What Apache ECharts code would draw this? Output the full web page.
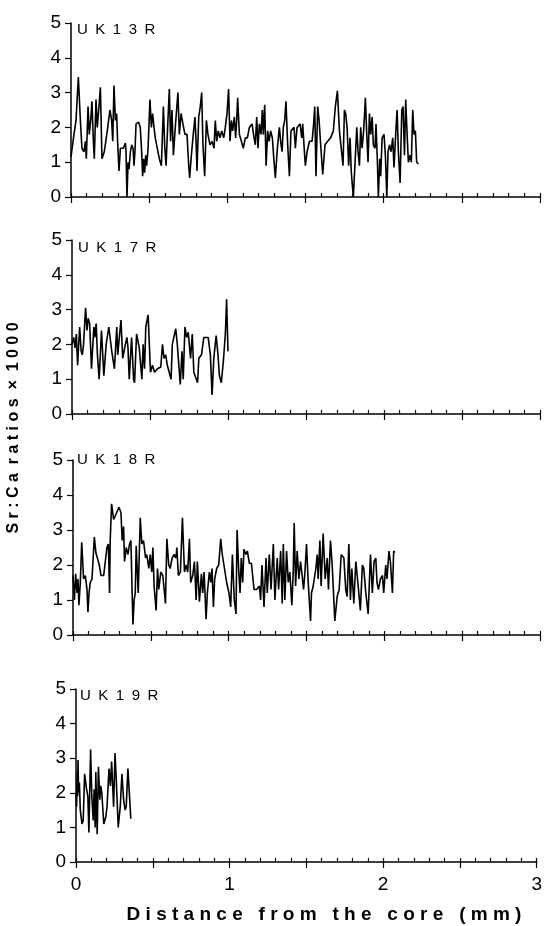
<!DOCTYPE html>
<html><head><meta charset="utf-8">
<script src="https://cdn.jsdelivr.net/npm/echarts@6/dist/echarts.min.js"></script>
<style>html,body{margin:0;padding:0;background:#fff}#c{width:545px;height:926px}</style>
</head><body><div id="c"></div>
<script>
const panelNames = ['UK13R', 'UK17R', 'UK18R', 'UK19R'];
const xTickLabels = ['0', '1', '2', '3'];
const yTickLabels = ['0', '1', '2', '3', '4', '5'];
const xTitle = 'Distance from the core (mm)';
const yTitle = 'Sr:Ca ratios \u00d7 1000';

// [distance (mm), Sr:Ca x 1000]
const uk13r = [[0,1.15],[0.019,1.8],[0.032,2.2],[0.047,3.45],[0.060,2.2],[0.070,1.4],[0.083,1.3],[0.092,1.6],[0.098,1.1],[0.109,2.6],[0.117,1.8],[0.126,2.2],[0.134,2.75],[0.143,1.6],[0.149,1.1],[0.160,2.8],[0.168,2.0],[0.179,2.6],[0.188,3.15],[0.198,1.1],[0.213,1.3],[0.232,1.9],[0.249,2.5],[0.260,2.2],[0.267,1.6],[0.275,3.2],[0.284,2.2],[0.292,2.4],[0.298,1.6],[0.307,0.75],[0.316,1.4],[0.335,1.4],[0.348,1.55],[0.352,1.3],[0.358,0],[0.365,1.0],[0.371,0.8],[0.380,1.3],[0.388,1.5],[0.397,1.4],[0.403,0.9],[0.409,1.3],[0.416,2.1],[0.433,2.15],[0.443,2.0],[0.452,1.3],[0.458,0.6],[0.465,1.1],[0.471,0.7],[0.478,1.2],[0.484,0.9],[0.493,1.4],[0.505,2.8],[0.514,2.0],[0.522,2.4],[0.531,2.0],[0.539,1.7],[0.552,1.4],[0.565,1.1],[0.578,0.9],[0.591,2.6],[0.599,1.5],[0.608,0.9],[0.620,2.2],[0.629,3.1],[0.637,1.6],[0.646,2.5],[0.655,1.2],[0.667,2.0],[0.684,3.0],[0.693,1.8],[0.704,2.4],[0.716,2.1],[0.729,1.8],[0.742,1.8],[0.753,0.9],[0.759,0.55],[0.770,1.2],[0.780,1.7],[0.793,2.3],[0.800,1.6],[0.806,0.75],[0.817,2.3],[0.827,2.6],[0.836,3.0],[0.844,1.5],[0.855,0.6],[0.866,2.2],[0.876,1.8],[0.889,1.5],[0.902,1.6],[0.915,1.4],[0.923,2.2],[0.932,1.6],[0.942,1.9],[0.953,1.7],[0.964,1.9],[0.977,1.7],[0.987,2.0],[0.998,2.4],[1.008,3.1],[1.017,1.6],[1.026,2.2],[1.034,1.9],[1.045,2.3],[1.053,1.7],[1.060,2.2],[1.066,2.85],[1.077,1.8],[1.090,1.6],[1.102,1.4],[1.115,1.7],[1.128,1.7],[1.141,2.0],[1.158,2.1],[1.171,1.7],[1.179,1.5],[1.188,2.3],[1.196,1.4],[1.205,2.1],[1.215,1.8],[1.224,2.5],[1.230,1.8],[1.239,2.65],[1.248,0.9],[1.258,1.9],[1.267,1.6],[1.277,1.9],[1.288,1.7],[1.299,1.0],[1.307,0.55],[1.320,1.4],[1.333,2.0],[1.341,1.6],[1.350,1.3],[1.358,2.0],[1.367,2.2],[1.375,2.75],[1.386,1.5],[1.397,0.6],[1.407,1.9],[1.418,1.9],[1.427,2.0],[1.435,1.4],[1.446,2.0],[1.456,2.0],[1.465,2.1],[1.476,1.7],[1.482,2.1],[1.493,1.3],[1.499,0.9],[1.510,1.3],[1.525,1.6],[1.542,1.6],[1.552,2.1],[1.559,2.6],[1.567,0.6],[1.578,2.6],[1.587,2.2],[1.597,1.5],[1.610,0.65],[1.625,1.5],[1.642,1.6],[1.661,1.7],[1.678,1.9],[1.691,2.6],[1.704,3.05],[1.717,1.9],[1.727,1.9],[1.740,0.9],[1.749,2.5],[1.757,2.4],[1.766,2.0],[1.776,0.9],[1.785,1.7],[1.793,0.7],[1.806,0],[1.817,1.0],[1.828,2.0],[1.836,1.3],[1.845,0.9],[1.853,2.0],[1.862,1.4],[1.872,1.9],[1.883,2.85],[1.891,1.9],[1.900,1.0],[1.909,2.4],[1.917,1.8],[1.926,2.3],[1.934,1.5],[1.945,1.4],[1.951,2.1],[1.960,1.0],[1.966,0],[1.975,1.1],[1.981,0.6],[1.990,1.7],[2.002,1.8],[2.011,1.2],[2.020,0],[2.028,1.3],[2.037,1.5],[2.047,1.3],[2.058,1.7],[2.066,0.85],[2.077,1.8],[2.086,2.5],[2.094,1.3],[2.105,0.4],[2.116,2.5],[2.124,2.6],[2.133,1.2],[2.141,2.8],[2.150,1.8],[2.158,1.0],[2.169,1.2],[2.177,1.0],[2.186,2.5],[2.194,1.8],[2.203,1.9],[2.211,1.0],[2.222,0.95]];

const uk17r = [[0,2.0],[0.011,2.2],[0.019,1.9],[0.028,2.3],[0.036,1.4],[0.049,2.5],[0.059,1.8],[0.066,1.7],[0.074,2.0],[0.087,3.05],[0.096,2.4],[0.104,2.75],[0.113,2.6],[0.125,1.3],[0.140,2.5],[0.146,2.2],[0.155,2.6],[0.163,1.7],[0.174,1.0],[0.189,2.4],[0.204,1.1],[0.219,2.0],[0.236,2.5],[0.244,2.55],[0.255,1.8],[0.272,1.3],[0.287,2.5],[0.293,1.7],[0.314,2.7],[0.325,1.6],[0.342,2.0],[0.352,2.2],[0.359,1.9],[0.367,1.0],[0.382,2.2],[0.395,1.0],[0.401,0.9],[0.414,2.3],[0.431,1.9],[0.448,1.0],[0.456,2.0],[0.465,1.3],[0.473,2.5],[0.488,2.85],[0.503,1.2],[0.516,1.4],[0.529,1.2],[0.548,1.3],[0.569,1.35],[0.580,2.0],[0.590,1.6],[0.601,1.7],[0.611,1.4],[0.635,1.0],[0.643,2.0],[0.665,2.45],[0.675,2.0],[0.694,0.85],[0.705,1.8],[0.713,1.0],[0.724,2.5],[0.735,2.2],[0.745,2.35],[0.760,1.6],[0.771,2.3],[0.781,1.2],[0.805,0.9],[0.813,1.6],[0.830,1.7],[0.845,2.2],[0.873,2.2],[0.887,1.7],[0.898,0.55],[0.909,1.6],[0.924,2.25],[0.936,1.7],[0.945,1.1],[0.957,0.9],[0.970,1.5],[0.983,2.3],[0.991,3.3],[1.000,1.8]];

const uk18r = [[0,1.7],[0.009,1.0],[0.017,1.75],[0.026,1.2],[0.032,1.6],[0.038,0.85],[0.047,1.5],[0.056,2.65],[0.068,1.6],[0.079,1.7],[0.090,1.3],[0.096,0.65],[0.103,1.2],[0.111,1.5],[0.122,1.6],[0.137,2.8],[0.147,2.35],[0.158,2.4],[0.169,2.0],[0.180,1.7],[0.197,1.7],[0.207,1.65],[0.218,2.5],[0.227,2.6],[0.235,1.2],[0.239,2.7],[0.248,3.75],[0.261,3.3],[0.271,3.4],[0.295,3.65],[0.308,3.5],[0.316,2.7],[0.325,3.1],[0.331,2.1],[0.342,2.5],[0.353,2.3],[0.363,2.6],[0.372,2.7],[0.380,1.2],[0.385,0.3],[0.393,1.0],[0.400,1.2],[0.406,2.55],[0.419,1.2],[0.432,3.35],[0.442,2.6],[0.453,2.7],[0.466,2.2],[0.474,2.3],[0.487,1.9],[0.496,2.3],[0.506,1.8],[0.513,2.5],[0.521,1.4],[0.534,0.7],[0.543,1.9],[0.551,1.3],[0.564,1.8],[0.577,1.7],[0.594,0.9],[0.603,2.75],[0.615,2.0],[0.624,1.9],[0.637,2.2],[0.650,2.3],[0.662,2.2],[0.667,2.5],[0.677,1.7],[0.690,1.8],[0.703,3.35],[0.716,1.8],[0.727,2.0],[0.737,1.8],[0.748,2.75],[0.756,1.5],[0.769,1.7],[0.780,2.1],[0.791,1.0],[0.799,2.1],[0.812,0.95],[0.825,1.75],[0.833,1.2],[0.842,1.8],[0.855,0.45],[0.863,1.2],[0.876,1.8],[0.885,1.5],[0.893,1.9],[0.902,0.8],[0.910,1.6],[0.923,1.9],[0.936,2.0],[0.949,2.75],[0.959,2.3],[0.970,2.3],[0.987,1.5],[1.002,1.2],[1.013,0.8],[1.024,2.3],[1.036,1.0],[1.047,0.6],[1.054,3.0],[1.064,1.9],[1.073,1.2],[1.081,2.2],[1.090,1.5],[1.098,2.45],[1.111,2.3],[1.120,2.4],[1.133,2.05],[1.146,2.05],[1.154,2.0],[1.163,1.3],[1.180,1.3],[1.197,1.4],[1.205,1.0],[1.214,2.0],[1.227,0.8],[1.240,2.2],[1.248,1.2],[1.261,2.3],[1.272,1.3],[1.287,2.6],[1.297,1.0],[1.312,2.2],[1.321,1.3],[1.334,2.4],[1.344,0.9],[1.351,2.6],[1.361,1.0],[1.372,2.4],[1.383,1.5],[1.393,1.8],[1.406,0.85],[1.415,1.85],[1.421,3.2],[1.430,1.4],[1.440,2.4],[1.451,1.6],[1.462,2.1],[1.472,1.7],[1.481,1.3],[1.490,1.8],[1.500,2.6],[1.511,1.5],[1.526,0.4],[1.532,1.2],[1.543,1.4],[1.560,1.9],[1.569,2.3],[1.575,1.6],[1.586,2.7],[1.594,1.4],[1.607,2.9],[1.620,1.6],[1.633,2.2],[1.641,1.3],[1.654,2.7],[1.665,2.0],[1.682,0.4],[1.697,1.1],[1.710,1.3],[1.723,2.3],[1.740,2.2],[1.752,1.3],[1.761,1.1],[1.772,2.6],[1.782,1.0],[1.791,1.9],[1.804,0.9],[1.817,2.1],[1.832,1.4],[1.846,0.7],[1.859,2.0],[1.868,1.9],[1.881,1.2],[1.896,0.6],[1.911,2.3],[1.923,1.2],[1.934,2.1],[1.945,2.2],[1.953,1.5],[1.962,1.3],[1.975,1.6],[1.988,1.7],[1.996,1.2],[2.009,2.0],[2.017,1.6],[2.030,2.4],[2.039,2.1],[2.052,1.2],[2.060,2.4],[2.067,2.35]];

const uk19r = [[0,2.0],[0.004,1.6],[0.008,2.6],[0.011,1.9],[0.013,2.95],[0.017,2.0],[0.022,2.3],[0.028,1.5],[0.039,1.1],[0.047,1.2],[0.056,2.55],[0.069,2.1],[0.077,1.9],[0.084,0.85],[0.095,3.25],[0.103,1.9],[0.112,1.2],[0.118,2.1],[0.125,1.0],[0.129,2.6],[0.138,0.8],[0.146,2.75],[0.155,1.8],[0.161,2.2],[0.168,2.0],[0.181,1.1],[0.194,1.3],[0.202,1.6],[0.215,2.7],[0.224,2.2],[0.232,2.9],[0.245,1.6],[0.254,3.15],[0.262,2.4],[0.275,1.0],[0.288,1.6],[0.299,2.55],[0.310,1.8],[0.320,1.5],[0.327,1.6],[0.338,2.7],[0.357,1.25]];

const seriesData = [uk13r, uk17r, uk18r, uk19r];

// layout (pixels)
const grids = [
  {left: 71, top: 23, height: 174, labelX: 77, labelY: 30},
  {left: 72, top: 240, height: 174, labelX: 78, labelY: 248},
  {left: 73, top: 460, height: 175, labelX: 77, labelY: 460},
  {left: 76, top: 689, height: 173, labelX: 80, labelY: 696}
];
const FONT = '"Liberation Sans", Arial, Helvetica, sans-serif';

function spaced(s, intra, inter) {
  return s.split(' ').map(w => w.split('').join(intra)).join(inter);
}

const chart = echarts.init(document.getElementById('c'), null, {renderer: 'canvas'});
const xAxes = [];
grids.forEach((g, i) => {
  xAxes.push({
    gridIndex: i, type: 'value', min: 0, max: 3, interval: 0.5, position: 'bottom',
    axisLine: {show: true, onZero: false, lineStyle: {color: '#000', width: 1.5}},
    axisTick: {show: true, inside: false, length: 6, lineStyle: {color: '#000', width: 1.2}},
    axisLabel: {
      show: i === 3, margin: 13, color: '#000', fontSize: 19, fontFamily: FONT,
      formatter: v => { const k = Math.round(v * 2); return k % 2 === 0 ? xTickLabels[k / 2] : ''; }
    },
    splitLine: {show: false}
  });
  xAxes.push({
    gridIndex: i, type: 'value', min: 0, max: 3, interval: 0.1, position: 'bottom',
    axisLine: {show: false},
    axisTick: {show: true, inside: true, length: 4, lineStyle: {color: '#000', width: 1.2}},
    axisLabel: {show: false},
    splitLine: {show: false}
  });
});

const graphic = grids.map((g, i) => ({
  type: 'text', x: g.labelX, y: g.labelY, silent: true,
  style: {text: spaced(panelNames[i], '\u2002', '\u2002'), font: '15px ' + FONT, fill: '#000',
          textAlign: 'left', textVerticalAlign: 'middle'}
}));
graphic.push({
  type: 'text', x: 324, y: 915, silent: true,
  style: {text: spaced(xTitle, ' ', '   '), font: 'bold 19px ' + FONT, fill: '#000',
          textAlign: 'center', textVerticalAlign: 'middle'}
});
graphic.push({
  type: 'text', x: 14, y: 428, rotation: Math.PI / 2, silent: true,
  style: {text: spaced(yTitle, ' ', '  '), font: 'bold 16px ' + FONT, fill: '#000',
          textAlign: 'center', textVerticalAlign: 'middle'}
});

chart.setOption({
  animation: false,
  backgroundColor: '#fff',
  grid: grids.map(g => ({left: g.left, right: 5, top: g.top, height: g.height, containLabel: false})),
  xAxis: xAxes,
  yAxis: grids.map((g, i) => ({
    gridIndex: i, type: 'value', min: 0, max: 5, interval: 1,
    axisLine: {show: true, onZero: false, lineStyle: {color: '#000', width: 1.5}},
    axisTick: {show: true, length: 6, lineStyle: {color: '#000', width: 1.2}},
    axisLabel: {color: '#000', fontSize: 19, fontFamily: FONT, margin: 10, formatter: v => yTickLabels[Math.round(v)]},
    splitLine: {show: false}
  })),
  series: seriesData.map((d, i) => ({
    type: 'line', name: panelNames[i], xAxisIndex: 2 * i, yAxisIndex: i, data: d,
    showSymbol: false, symbol: 'none', silent: true,
    lineStyle: {color: '#000', width: 1.6}
  })),
  graphic: graphic
});
</script>
</body></html>
